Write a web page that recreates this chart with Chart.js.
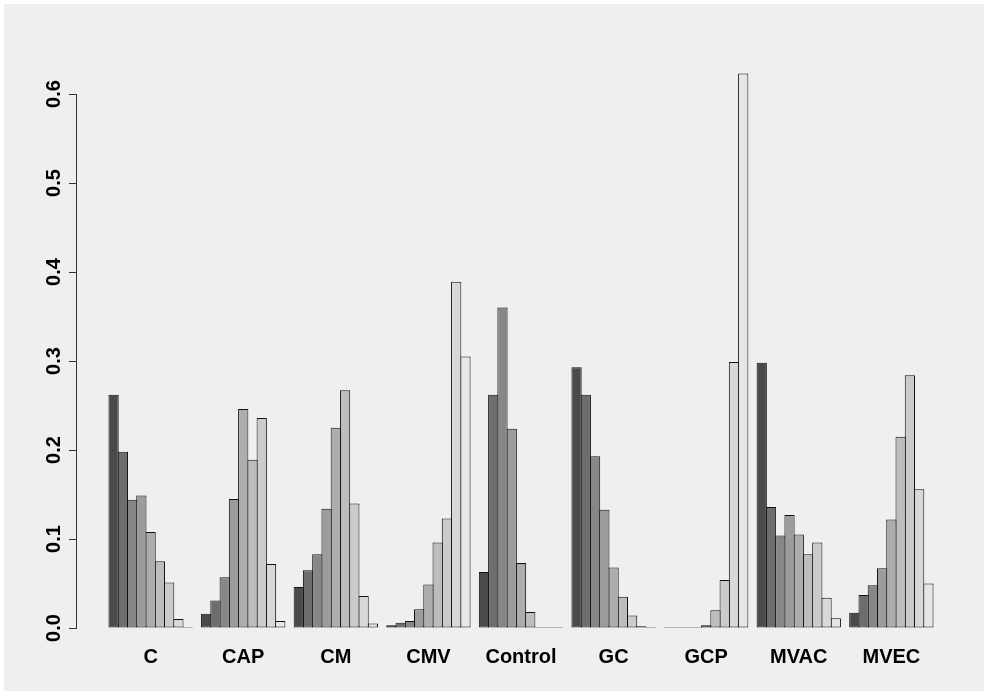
<!DOCTYPE html>
<html>
<head>
<meta charset="utf-8">
<script src="https://cdn.jsdelivr.net/npm/chart.js@4.4.1/dist/chart.umd.min.js"></script>
<style>
  html, body { margin: 0; padding: 0; background: #ffffff; }
  #frame { position: absolute; left: 4px; top: 4px; width: 980px; height: 687px; background: #efefef; }
  canvas { display: block; }
</style>
</head>
<body>
<div id="frame"><canvas id="chart" width="980" height="687"></canvas></div>
<script>
// Groups along the x axis
const groups = ['C', 'CAP', 'CM', 'CMV', 'Control', 'GC', 'GCP', 'MVAC', 'MVEC'];

// Nine levels drawn side by side inside every group (dark -> light)
const levels = ['1', '2', '3', '4', '5', '6', '7', '8', '9'];

// Proportion of each level, one array per group
const propC       = [0.262, 0.198, 0.144, 0.149, 0.108, 0.075, 0.051, 0.010, 0.001];
const propCAP     = [0.016, 0.031, 0.057, 0.145, 0.246, 0.189, 0.236, 0.072, 0.008];
const propCM      = [0.046, 0.065, 0.083, 0.134, 0.225, 0.267, 0.140, 0.036, 0.005];
const propCMV     = [0.003, 0.006, 0.008, 0.021, 0.049, 0.096, 0.123, 0.389, 0.305];
const propControl = [0.063, 0.262, 0.360, 0.224, 0.073, 0.018, 0.000, 0.000, 0.000];
const propGC      = [0.293, 0.262, 0.193, 0.133, 0.068, 0.035, 0.014, 0.002, 0.001];
const propGCP     = [0.000, 0.000, 0.000, 0.000, 0.003, 0.020, 0.054, 0.299, 0.623];
const propMVAC    = [0.298, 0.136, 0.104, 0.127, 0.105, 0.083, 0.096, 0.034, 0.011];
const propMVEC    = [0.017, 0.037, 0.048, 0.067, 0.122, 0.215, 0.284, 0.156, 0.050];

const rows = [propC, propCAP, propCM, propCMV, propControl, propGC, propGCP, propMVAC, propMVEC];

// Y axis tick values
const yTicks = [0.0, 0.1, 0.2, 0.3, 0.4, 0.5, 0.6];

// Grey ramp from dark to light (gamma-corrected, 0.3 -> 0.9)
const fills = ['#4a4a4a', '#6d6d6d', '#878787', '#9c9c9c', '#adadad', '#bdbdbd', '#cbcbcb', '#d8d8d8', '#e6e6e6'];

const datasets = levels.map((lvl, k) => ({
  label: lvl,
  data: groups.map((g, i) => ({ x: i + 1, y: rows[i][k] })),
  backgroundColor: fills[k],
  borderColor: '#111111',
  borderWidth: 1,
  borderSkipped: false,
  inflateAmount: 0,
  minBarLength: 1,
  clip: false
}));

const labelFont = { family: '"Liberation Sans", Arial, sans-serif', size: 20, weight: 'bold' };

new Chart(document.getElementById('chart'), {
  type: 'bar',
  data: { datasets },
  options: {
    responsive: false,
    animation: false,
    devicePixelRatio: 1,
    layout: { padding: { top: 90, right: 18, bottom: 21, left: 42 } },
    datasets: {
      bar: { categoryPercentage: 0.9, barPercentage: 1.108, grouped: true }
    },
    plugins: {
      legend: { display: false },
      tooltip: { enabled: false },
      title: { display: false }
    },
    scales: {
      x: {
        type: 'linear',
        offset: false,
        min: 0.194,
        max: 9.806,
        border: { display: false },
        grid: { display: false, drawTicks: false, offset: false },
        afterBuildTicks: s => { s.ticks = groups.map((g, i) => ({ value: i + 1 })); },
        afterFit: s => { s.height = 42; },
        ticks: {
          autoSkip: false,
          maxRotation: 0,
          minRotation: 0,
          padding: 17,
          color: '#000000',
          font: labelFont,
          callback: v => groups[Math.round(v) - 1]
        }
      },
      y: {
        type: 'linear',
        min: 0,
        max: 0.6,
        border: { display: true, color: '#333333', width: 1 },
        grid: {
          display: true,
          drawOnChartArea: false,
          drawTicks: true,
          tickLength: 7,
          tickColor: '#333333',
          color: '#333333'
        },
        afterBuildTicks: s => { s.ticks = yTicks.map(v => ({ value: v })); },
        afterFit: s => { s.width = 30; },
        ticks: {
          minRotation: 90,
          maxRotation: 90,
          crossAlign: 'center',
          padding: 1,
          color: '#000000',
          font: labelFont,
          callback: v => Number(v).toFixed(1)
        }
      }
    }
  }
});
</script>
</body>
</html>
